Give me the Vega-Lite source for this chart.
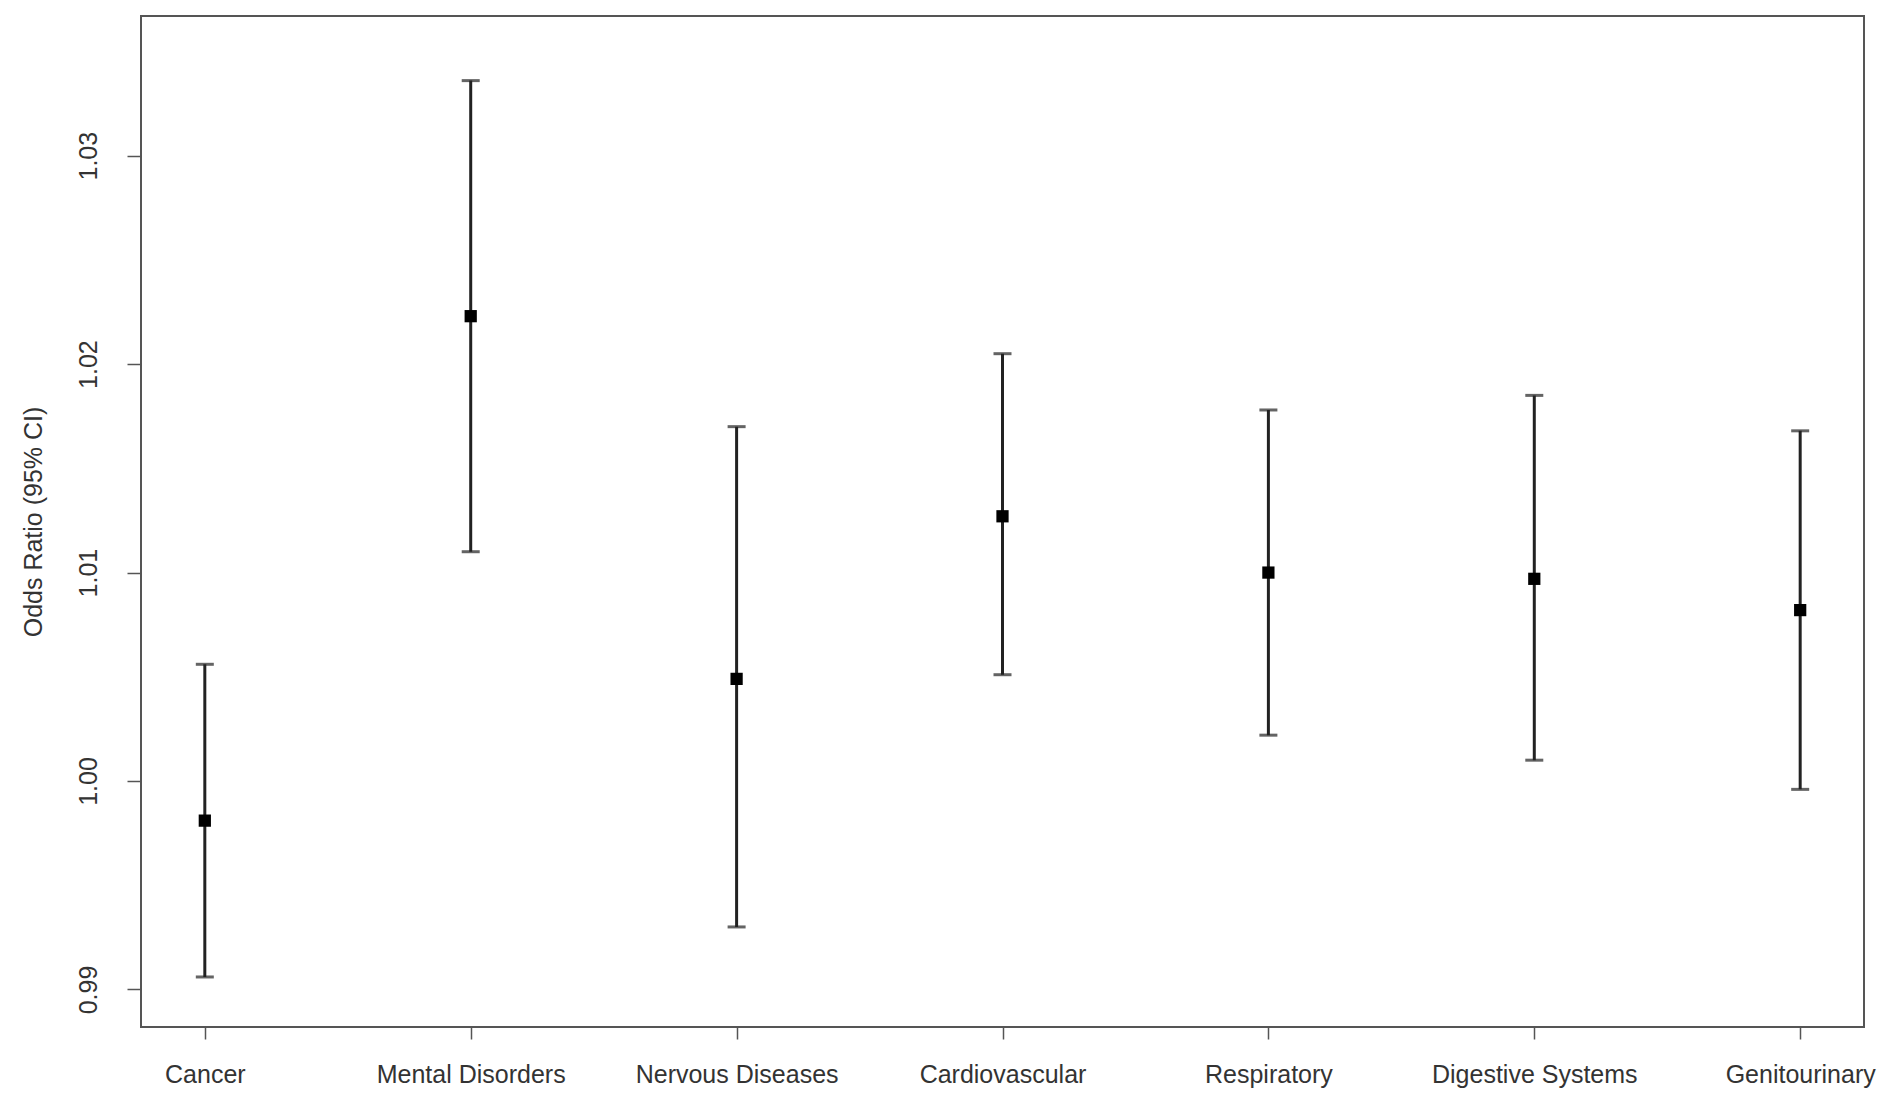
{
  "$schema": "https://vega.github.io/schema/vega-lite/v6.json",
  "autosize": "none",
  "padding": {"left": 141, "top": 16, "right": 17, "bottom": 67},
  "width": 1723,
  "height": 1011,
  "background": "white",
  "config": {
    "view": {"stroke": "#555", "strokeWidth": 2},
    "font": "Liberation Sans"
  },
  "data": {
    "values": [
      {"cause": "Cancer", "or": 0.9981, "lower": 0.9906, "upper": 1.0056},
      {"cause": "Mental Disorders", "or": 1.0223, "lower": 1.0110, "upper": 1.0336},
      {"cause": "Nervous Diseases", "or": 1.0049, "lower": 0.9930, "upper": 1.0170},
      {"cause": "Cardiovascular", "or": 1.0127, "lower": 1.0051, "upper": 1.0205},
      {"cause": "Respiratory", "or": 1.0100, "lower": 1.0022, "upper": 1.0178},
      {"cause": "Digestive Systems", "or": 1.0097, "lower": 1.0010, "upper": 1.0185},
      {"cause": "Genitourinary", "or": 1.0082, "lower": 0.9996, "upper": 1.0168}
    ]
  },
  "encoding": {
    "x": {
      "field": "cause",
      "type": "nominal",
      "sort": null,
      "scale": {"type": "point", "padding": 0.24},
      "axis": {
        "title": null,
        "labelAngle": 0,
        "labelFontSize": 25,
        "labelColor": "#333",
        "labelPadding": 23,
        "labelLimit": 0,
        "labelOverlap": false,
        "domain": false,
        "ticks": true,
        "tickSize": 12,
        "tickColor": "#555",
        "tickWidth": 1.5,
        "grid": false
      }
    }
  },
  "layer": [
    {
      "mark": {"type": "rule", "color": "#222", "strokeWidth": 3},
      "encoding": {
        "y": {
          "field": "lower",
          "type": "quantitative",
          "scale": {"domain": [0.9882, 1.0367], "nice": false, "zero": false},
          "axis": {
            "title": "Odds Ratio (95% CI)",
            "titleFontSize": 25,
            "titleFontWeight": "normal",
            "titleColor": "#333",
            "titleX": -108,
            "titleBaseline": "middle",
            "values": [0.99, 1.0, 1.01, 1.02, 1.03],
            "format": ".2f",
            "labelAngle": -90,
            "labelAlign": "center",
            "labelBaseline": "bottom",
            "labelFontSize": 25,
            "labelColor": "#333",
            "labelPadding": 26,
            "domain": false,
            "tickSize": 14,
            "tickColor": "#555",
            "tickWidth": 1.5,
            "grid": false
          }
        },
        "y2": {"field": "upper"}
      }
    },
    {
      "mark": {"type": "tick", "color": "#222", "size": 18, "thickness": 3, "orient": "horizontal"},
      "encoding": {"y": {"field": "upper", "type": "quantitative"}}
    },
    {
      "mark": {"type": "tick", "color": "#222", "size": 18, "thickness": 3, "orient": "horizontal"},
      "encoding": {"y": {"field": "lower", "type": "quantitative"}}
    },
    {
      "mark": {"type": "square", "filled": true, "color": "#000", "size": 150, "opacity": 1},
      "encoding": {"y": {"field": "or", "type": "quantitative"}}
    }
  ]
}
